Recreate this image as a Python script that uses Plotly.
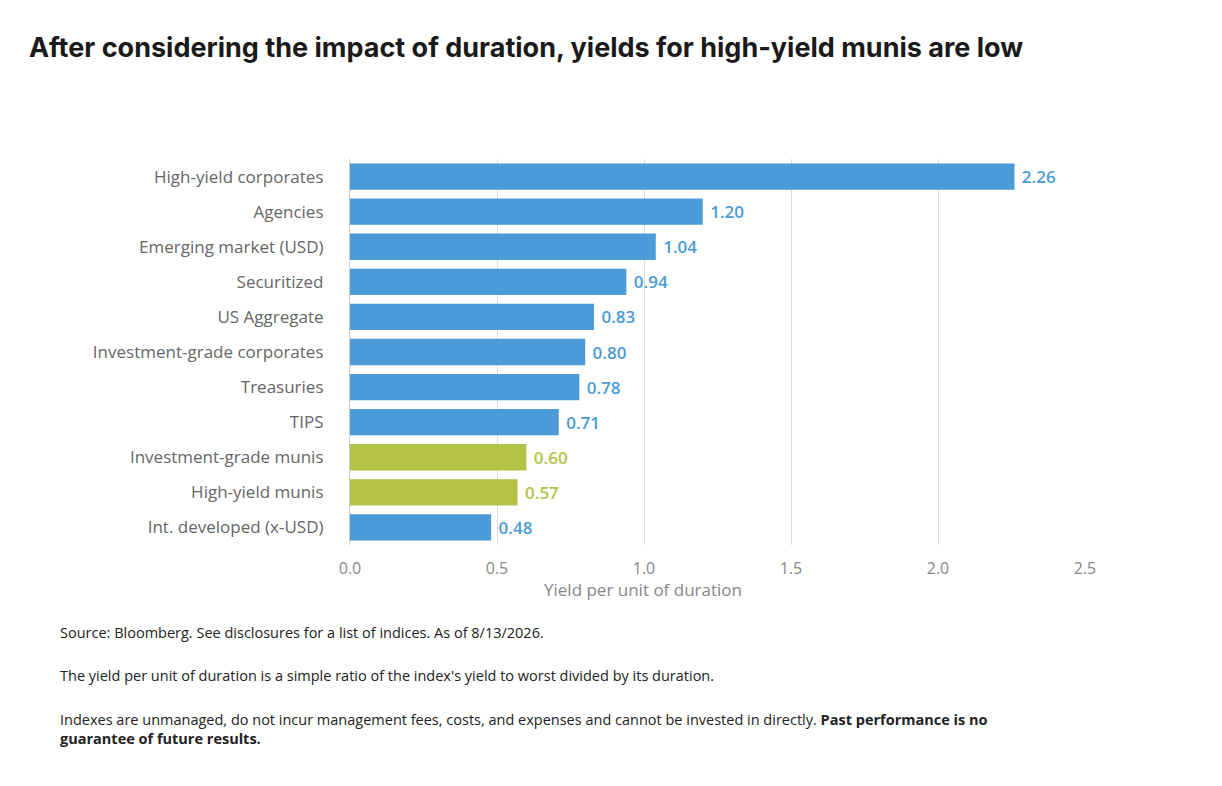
import plotly.graph_objects as go

categories = ["High-yield corporates", "Agencies", "Emerging market (USD)", "Securitized",
              "US Aggregate", "Investment-grade corporates", "Treasuries", "TIPS",
              "Investment-grade munis", "High-yield munis", "Int. developed (x-USD)"]
values = [2.26, 1.20, 1.04, 0.94, 0.83, 0.80, 0.78, 0.71, 0.60, 0.57, 0.48]
highlight = ["Investment-grade munis", "High-yield munis"]

BLUE = "#4a9bd7"
GREEN = "#b2c345"
colors = [GREEN if c in highlight else BLUE for c in categories]

fig = go.Figure(go.Bar(
    x=values, y=categories, orientation="h",
    marker=dict(color=colors, line_width=0),
    text=[f" {v:.2f}" for v in values], textposition="outside",
    textfont=dict(color=colors, size=17, family="Open Sans", weight=600),
    cliponaxis=False,
))

fig.update_layout(
    width=1222, height=786, plot_bgcolor="white", paper_bgcolor="white",
    margin=dict(l=342, r=145, t=151, b=249),
    bargap=0.25, showlegend=False,
    font=dict(family="Open Sans", color="#666"),
)
fig.update_yaxes(autorange="reversed", tickfont=dict(size=17, color="#666"),
                 ticks="", showline=True, linecolor="#ccc", ticksuffix="     ")
fig.update_xaxes(range=[0, 2.5], dtick=0.5, tickformat=".1f", showgrid=True,
                 gridcolor="#ddd", zeroline=False, ticklabelstandoff=12,
                 tickfont=dict(size=16, color="#888"))

PH = 545 - 159
def py(ypix):
    return (545 - ypix) / PH

fig.add_annotation(text="<b>After considering the impact of duration, yields for high-yield munis are low</b>",
                   xref="paper", yref="paper", x=(27 - 350) / 735, y=py(47), xanchor="left", yanchor="middle",
                   showarrow=False, font=dict(size=27, color="#1a1a1a", family="Inter"))
fig.add_annotation(text="Yield per unit of duration", xref="paper", yref="paper", x=(643 - 350) / 735, y=py(589),
                   yanchor="middle", showarrow=False, font=dict(size=17, color="#888"))
notes = [
    (632, "Source: Bloomberg. See disclosures for a list of indices. As of 8/13/2026."),
    (675, "The yield per unit of duration is a simple ratio of the index's yield to worst divided by its duration."),
    (729, "Indexes are unmanaged, do not incur management fees, costs, and expenses and cannot be invested in directly. "
          "<b>Past performance is no</b><br><b>guarantee of future results.</b>"),
]
for ypix, t in notes:
    fig.add_annotation(text=t, xref="paper", yref="paper", x=(58 - 350) / 735, y=py(ypix),
                       xanchor="left", yanchor="middle", align="left", showarrow=False,
                       font=dict(size=14.5, color="#222", family="Open Sans"))

fig.write_html("out.html")
